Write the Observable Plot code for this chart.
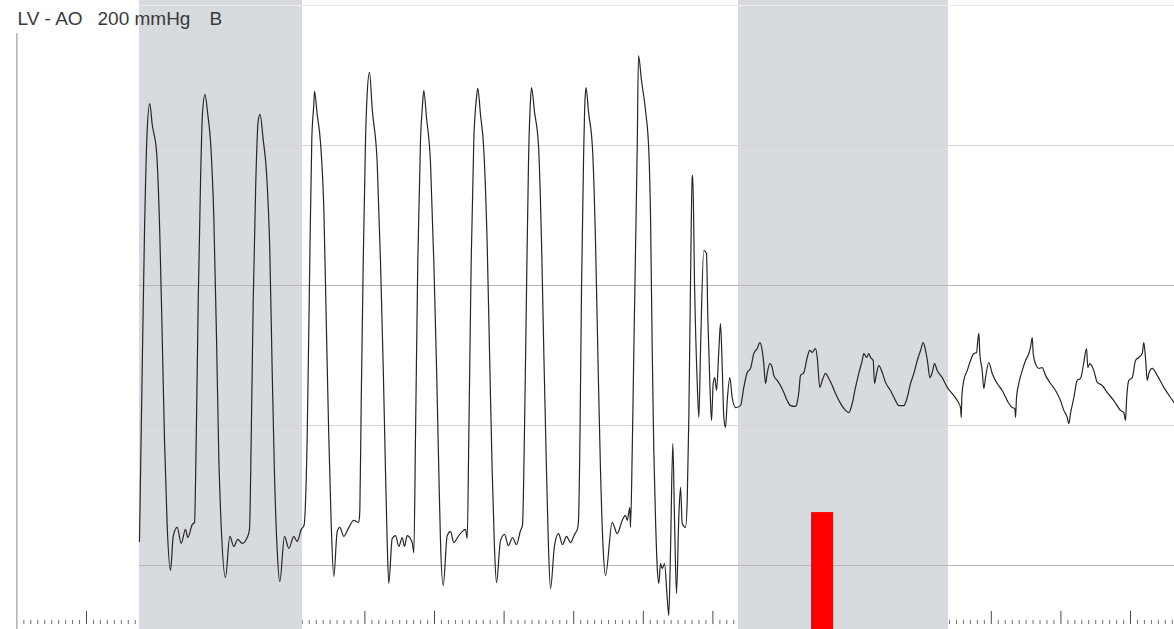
<!DOCTYPE html>
<html>
<head>
<meta charset="utf-8">
<script src="https://cdn.jsdelivr.net/npm/d3@7"></script>
<script src="https://cdn.jsdelivr.net/npm/@observablehq/plot@0.6"></script>
<style>
html, body { margin: 0; padding: 0; background: #ffffff; overflow: hidden; }
</style>
</head>
<body>
<div id="chart"></div>
<script>
// ---- Data (time in s, pressure in mmHg) ----
const titleParts = ["LV - AO", "200 mmHg", "B"];

// Paced beats (first ten ventricular beats)
const pacedBeats = [
[0.761,8.6],[0.800,69.3],[0.833,118.6],[0.872,155.4],[0.909,165.0],[0.944,157.5],[1.006,147.9],[1.053,118.6],[1.088,81.4],[1.121,44.6],[1.159,14.3],[1.207,-1.8],[1.246,10.4],[1.303,13.6],[1.361,7.9],[1.422,12.9],[1.455,10.0],[1.519,14.6],[1.552,15.4],
[1.576,44.6],[1.605,93.9],[1.638,136.8],[1.667,161.8],[1.703,168.2],
[1.743,161.0],[1.782,151.4],[1.829,124.6],[1.868,81.4],[1.901,38.6],[1.935,14.3],[1.997,-4.3],[2.059,10.4],[2.116,6.8],[2.174,9.3],[2.237,7.9],[2.309,10.0],[2.342,12.9],
[2.366,44.6],[2.395,93.9],[2.432,136.8],[2.467,158.9],[2.493,161.1],
[2.539,152.0],[2.586,140.4],[2.634,112.1],[2.668,69.3],[2.701,32.5],[2.740,5.4],[2.777,-5.7],[2.845,10.4],[2.907,6.1],[2.979,10.4],[3.027,8.6],[3.085,12.9],[3.125,14.3],
[3.171,46.1],[3.208,108.6],[3.237,152.1],[3.266,164.6],[3.276,169.3],
[3.315,161.0],[3.362,151.1],[3.410,127.1],[3.448,83.6],[3.481,46.1],[3.516,14.6],[3.553,-3.9],[3.602,12.1],[3.639,13.6],[3.697,10.4],[3.769,13.6],[3.841,16.1],[3.912,15.4],[3.927,19.6],
[3.947,58.6],[3.976,108.6],[4.009,152.1],[4.033,168.6],[4.066,176.1],
[4.105,163.0],[4.177,143.6],[4.224,108.6],[4.263,71.1],[4.296,33.6],[4.320,8.6],[4.343,-6.4],[4.392,9.6],[4.440,10.7],[4.487,6.8],[4.536,10.0],[4.569,6.8],[4.608,10.7],[4.680,8.2],[4.703,4.6],
[4.727,46.1],[4.760,108.6],[4.799,152.1],[4.828,164.6],[4.846,169.6],
[4.885,160.0],[4.943,143.6],[4.990,108.6],[5.029,71.1],[5.062,33.6],[5.086,8.6],[5.125,-7.1],[5.183,10.7],[5.230,12.1],[5.277,8.2],[5.349,10.7],[5.398,12.1],[5.445,12.9],[5.470,9.6],
[5.493,46.1],[5.527,108.6],[5.565,152.1],[5.604,167.1],[5.622,170.4],
[5.661,161.0],[5.708,148.6],[5.757,114.6],[5.795,71.1],[5.829,33.6],[5.862,6.1],[5.891,-6.1],[5.948,8.9],[6.006,11.1],[6.063,7.1],[6.121,10.0],[6.178,7.5],[6.236,12.5],[6.264,14.3],
[6.293,48.2],[6.322,98.2],[6.351,144.6],[6.379,166.1],[6.394,170.7],
[6.437,162.0],[6.494,150.0],[6.537,116.1],[6.573,73.2],[6.609,33.9],[6.638,6.1],[6.667,-8.2],[6.724,7.1],[6.782,11.4],[6.839,7.5],[6.897,10.4],[6.954,8.2],[7.012,11.1],[7.055,13.2],[7.069,16.1],
[7.091,48.2],[7.112,98.2],[7.141,144.6],[7.162,166.1],[7.177,170.7],
[7.213,162.0],[7.270,148.9],[7.313,116.1],[7.349,73.2],[7.385,33.9],[7.421,7.1],[7.457,-3.6],[7.553,15.4],[7.625,11.4],[7.697,16.1],[7.744,17.9],[7.769,16.1],[7.806,20.7],[7.816,13.6],
[7.841,41.1],[7.864,76.8],[7.888,112.5],[7.912,148.2],[7.931,182.1]
];

// Collapse / irregular transition
const transition = [
[7.974,173.2],[8.032,162.5],[8.079,148.2],[8.104,124.3],[8.128,76.8],[8.151,41.1],[8.175,17.1],[8.200,-0.7],[8.223,-6.4],[8.247,0.7],[8.272,-1.1],[8.305,0.7],[8.343,-11.4],[8.366,-17.9],[8.391,5.4],[8.424,43.6],[8.448,17.1],[8.477,-10.0],[8.510,17.1],[8.535,27.9],[8.559,15.0],[8.606,13.6],[8.631,23.2],[8.654,52.9],[8.678,100.7],[8.703,138.6],[8.711,139.3],[8.736,100.7],[8.775,65.0],[8.798,52.9],[8.822,76.8],[8.869,112.5],[8.908,111.4],[8.927,88.6],[8.956,65.0],[8.980,51.8],[9.004,65.0],[9.027,67.1],[9.052,62.5],[9.085,76.8],[9.109,86.4],[9.134,70.7],[9.157,52.9],[9.181,49.3],[9.206,58.9],[9.243,67.1],[9.277,60.0],[9.325,56.4]
];

// Low-amplitude waveform afterwards
const lowPressure = [
[9.397,57.1],[9.444,63.6],[9.493,68.9],[9.540,70.4],[9.588,75.7],[9.637,77.5],[9.674,79.6],[9.708,76.8],[9.731,72.1],[9.756,65.0],[9.780,68.6],[9.818,72.1],[9.852,70.7],[9.875,67.9],[9.924,66.1],[9.971,64.3],[10.019,61.8],[10.068,58.9],[10.115,57.1],[10.187,56.8],[10.211,58.2],[10.234,61.8],[10.259,67.9],[10.306,68.9],[10.355,74.3],[10.392,76.8],[10.427,76.1],[10.450,76.8],[10.474,77.5],[10.499,74.3],[10.536,63.6],[10.571,66.1],[10.618,68.6],[10.665,66.8],[10.714,64.3],[10.762,61.4],[10.833,57.9],[10.905,55.4],[10.953,54.6],[11.002,57.9],[11.049,63.6],[11.096,68.6],[11.145,73.2],[11.168,75.7],[11.207,74.3],[11.240,75.7],[11.265,74.3],[11.303,73.2],[11.322,65.0],[11.351,68.6],[11.384,71.4],[11.433,68.9],[11.480,65.4],[11.552,62.5],[11.624,58.9],[11.671,57.1],[11.743,57.1],[11.792,60.0],[11.839,65.0],[11.887,68.6],[11.936,73.2],[11.983,76.8],[12.022,79.6],[12.055,76.8],[12.088,72.1],[12.117,67.1],[12.151,68.9],[12.184,72.1],[12.223,69.6],[12.295,67.1],[12.367,63.6],[12.438,61.4],[12.510,58.9],[12.558,56.4],
[12.568,52.9],[12.576,60.0],[12.605,66.1],[12.654,69.6],[12.701,73.2],[12.749,75.7],[12.788,76.1],[12.806,80.4],[12.821,82.9],[12.835,75.7],[12.869,69.6],[12.892,63.2],[12.917,67.1],[12.964,72.5],[13.013,68.6],[13.085,65.0],[13.157,62.5],[13.229,58.9],[13.300,56.4],[13.338,56.1],[13.348,52.9],[13.362,60.0],[13.395,65.0],[13.444,69.6],[13.492,73.2],[13.539,75.7],[13.563,77.9],[13.588,81.4],[13.602,75.7],[13.635,72.1],[13.683,70.4],[13.731,70.7],[13.779,67.9],[13.851,65.0],[13.923,62.5],[13.994,58.9],[14.042,55.4],[14.091,52.9],[14.114,50.7],[14.138,54.3],[14.186,60.0],[14.234,66.1],[14.282,66.8],[14.329,72.5],[14.368,77.5],[14.387,70.7],[14.415,72.1],[14.473,69.6],[14.522,65.4],[14.594,64.3],[14.665,61.8],[14.760,58.9],[14.857,55.4],[14.904,54.6],[14.928,51.8],[14.943,58.9],[14.976,66.1],[15.025,67.1],[15.072,73.2],[15.119,74.3],[15.168,75.7],[15.191,79.6],[15.216,73.9],[15.240,66.1],[15.263,68.6],[15.312,70.4],[15.384,67.9],[15.479,63.6],[15.575,60.0],[15.632,57.9]
];

const bandStarts = [0.761, 9.368];
const bandEnds = [3.103, 12.385];
const markerStart = [10.417];
const markerEnd = [10.733];
const markerTop = [18.9];
const gridStrong = [0, 100];
const gridLight = [50, 150];
const gridTop = [200];
const majorTicks = d3.range(0, 16);
const minorTicks = d3.range(-9, 157).filter(i => i % 10 !== 0).map(i => i / 10);
const borderTime = [-1];

// ---- Build tables ----
const xDomain = [-1.2356, 15.632];
const yDomain = [-22.857, 201.786];
const trace = [...pacedBeats, ...transition, ...lowPressure].map(([t, p]) => ({t, p}));
const bands = bandStarts.map((s, i) => ({start: s, end: bandEnds[i]}));
const markers = markerStart.map((s, i) => ({start: s, end: markerEnd[i], top: markerTop[i], bottom: yDomain[0]}));
const traceStart = trace[0].t;

const chart = Plot.plot({
  width: 1174,
  height: 629,
  margin: 0,
  style: {background: "#ffffff", fontFamily: "'Liberation Sans', Arial, sans-serif", overflow: "hidden"},
  x: {domain: xDomain, axis: null},
  y: {domain: yDomain, axis: null},
  marks: [
    Plot.ruleX(minorTicks, {x: d => d, y1: -21.1, y2: -19.6, stroke: "#707070", strokeWidth: 1}),
    Plot.ruleX(majorTicks, {x: d => d, y1: -21.1, y2: -16.4, stroke: "#4a4a4a", strokeWidth: 1}),
    Plot.rect(bands, {x1: "start", x2: "end", fill: "#d7dadf"}),
    Plot.ruleY(gridTop, {y: d => d, x1: traceStart, x2: xDomain[1], stroke: "#ececec"}),
    Plot.ruleY(gridLight, {y: d => d, x1: traceStart, x2: xDomain[1], stroke: "#d4d4d4"}),
    Plot.ruleY(gridStrong, {y: d => d, x1: traceStart, x2: xDomain[1], stroke: "#b4b4b4"}),
    Plot.ruleX(borderTime, {x: d => d, y1: yDomain[0], y2: 190, stroke: "#9a9a9a", strokeWidth: 1.2}),
    Plot.line(trace, {x: "t", y: "p", curve: "monotone-x", stroke: "#262626", strokeWidth: 1.2, strokeLinejoin: "round"}),
    Plot.rect(markers, {x1: "start", x2: "end", y1: "bottom", y2: "top", fill: "#ff0000"}),
    Plot.text([titleParts[0]], {frameAnchor: "top-left", dx: 17, dy: 11, lineAnchor: "top", fontSize: 19, fill: "#3a3a3a", textAnchor: "start"}),
    Plot.text([titleParts[1]], {frameAnchor: "top-left", dx: 97, dy: 11, lineAnchor: "top", fontSize: 19, fill: "#3a3a3a", textAnchor: "start"}),
    Plot.text([titleParts[2]], {frameAnchor: "top-left", dx: 209, dy: 11, lineAnchor: "top", fontSize: 19, fill: "#3a3a3a", textAnchor: "start"})
  ]
});
document.getElementById("chart").append(chart);
</script>
</body>
</html>
